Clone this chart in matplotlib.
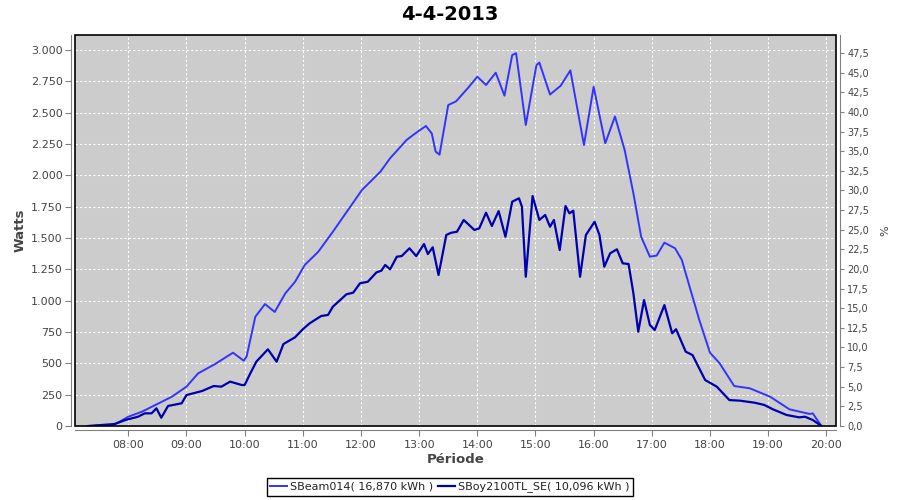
import pandas as pd
import matplotlib
matplotlib.use('Agg')
import matplotlib.pyplot as plt
import matplotlib.dates as mdates
from matplotlib.patches import Rectangle
from matplotlib.ticker import FuncFormatter, MultipleLocator

# values (time of day, Watts)
beam_times = ['07:18', '07:44', '07:50', '08:00', '08:14', '08:28', '08:45', '09:00', '09:12',
              '09:29', '09:48', '09:59', '10:02', '10:11', '10:21', '10:31', '10:42', '10:52',
              '11:02', '11:16', '11:31', '11:49', '12:01', '12:20', '12:30', '12:47', '12:56',
              '13:07', '13:13', '13:17', '13:21', '13:30', '13:38', '13:50', '14:00', '14:09', '14:19',
              '14:28', '14:36', '14:40', '14:50', '15:01', '15:04', '15:15', '15:26', '15:36', '15:50',
              '16:00', '16:12', '16:22', '16:32', '16:41', '16:49', '16:58', '17:05', '17:13', '17:24',
              '17:31', '17:39', '17:49', '18:00', '18:10', '18:25', '18:41', '19:02', '19:22',
              '19:43', '19:46', '19:55']
beam_watts = [0, 8, 30, 74, 114, 168, 234, 314, 420,
              492, 585, 521, 553, 872, 973, 910, 1059, 1151,
              1285, 1391, 1550, 1750, 1883, 2029, 2136, 2282, 2335,
              2394, 2335, 2190, 2165, 2561, 2590, 2694, 2787, 2721, 2819,
              2636, 2960, 2975, 2402, 2880, 2900, 2645, 2715, 2838, 2242,
              2707, 2256, 2470, 2202, 1857, 1510, 1351, 1360, 1463, 1418,
              1325, 1111, 846, 585, 500, 319, 301, 234, 133,
              96, 101, 0]

boy_times = ['07:19', '07:46', '07:57', '08:10', '08:17', '08:24', '08:29', '08:34', '08:41',
             '08:55', '09:00', '09:16', '09:28', '09:36', '09:45', '09:57', '10:00', '10:05',
             '10:12', '10:24', '10:33', '10:40', '10:52', '11:00', '11:07', '11:19', '11:26',
             '11:31', '11:45', '11:52', '11:59', '12:07', '12:16', '12:21', '12:25', '12:30',
             '12:37', '12:42', '12:50', '12:57', '13:05', '13:09', '13:14', '13:20', '13:28',
             '13:33', '13:39', '13:46', '13:57', '14:02', '14:09', '14:15', '14:22', '14:29',
             '14:36', '14:43', '14:46', '14:50', '14:57', '15:04', '15:10', '15:15', '15:19',
             '15:25', '15:31', '15:35', '15:39', '15:46', '15:52', '16:01', '16:06', '16:11',
             '16:17', '16:24', '16:30', '16:36', '16:41', '16:46', '16:52', '16:58', '17:03',
             '17:13', '17:21', '17:25', '17:35', '17:42', '17:55', '18:07', '18:20', '18:31',
             '18:46', '18:56', '19:05', '19:19', '19:32', '19:38', '19:46', '19:55']
boy_watts = [0, 16, 48, 74, 101, 101, 141, 66, 160,
             181, 247, 279, 319, 314, 354, 327, 327, 407,
             513, 612, 513, 654, 708, 772, 819, 878, 886,
             952, 1051, 1064, 1139, 1151, 1226, 1239, 1285, 1250,
             1351, 1356, 1418, 1356, 1452, 1372, 1426, 1205, 1524,
             1542, 1550, 1644, 1564, 1577, 1702, 1596, 1715, 1510,
             1790, 1817, 1750, 1191, 1835, 1644, 1684, 1590, 1644,
             1404, 1755, 1697, 1718, 1191, 1524, 1630, 1524, 1271,
             1378, 1410, 1298, 1293, 1059, 752, 1005, 806, 766,
             965, 740, 772, 593, 566, 367, 314, 207, 202,
             186, 168, 133, 88, 69, 74, 48, 0]

labels = ['SBeam014( 16,870 kWh )', 'SBoy2100TL_SE( 10,096 kWh )']
colors = ['#3333ff', '#0000b0']

day = '2013-04-04 '
beam_t = pd.to_datetime([day + t for t in beam_times])
boy_t = pd.to_datetime([day + t for t in boy_times])

fig = plt.figure(figsize=(9, 5), dpi=100)
ax = fig.add_axes([75 / 900, 74 / 500, 761 / 900, 391 / 500])
ax.set_facecolor('#cccccc')

l1, = ax.plot(beam_t, beam_watts, color=colors[0], lw=1.4)
l2, = ax.plot(boy_t, boy_watts, color=colors[1], lw=1.6)

ax.set_xlim(pd.Timestamp(day + '07:05'), pd.Timestamp(day + '20:10'))
ax.set_ylim(0, 3120)
ax.yaxis.set_major_locator(MultipleLocator(250))
ax.yaxis.set_major_formatter(FuncFormatter(lambda v, p: f"{int(v):,}".replace(',', '.')))
ax.xaxis.set_major_locator(mdates.HourLocator(byhour=range(8, 21)))
ax.xaxis.set_major_formatter(mdates.DateFormatter('%H:%M'))

ax.grid(True, color='white', linestyle=(0, (2, 2)), linewidth=0.8)
ax.set_axisbelow(True)

for s in ['top', 'right']:
    ax.spines[s].set_visible(False)
for s in ['left', 'bottom']:
    ax.spines[s].set_position(('outward', 3))
    ax.spines[s].set_color('gray')
ax.tick_params(axis='both', direction='out', length=4, color='gray',
               labelsize=8, labelcolor='#444444', pad=2)
ax.tick_params(axis='x', pad=3)

ax.set_ylabel('Watts', fontsize=9.5, fontweight='bold', color='#444444', labelpad=3)
ax.set_xlabel('Période', fontsize=9.5, fontweight='bold', color='#444444', labelpad=2)

ax2 = ax.twinx()
ax2.set_ylim(0, 49.8)
ax2.yaxis.set_major_locator(MultipleLocator(2.5))
ax2.yaxis.set_major_formatter(FuncFormatter(lambda v, p: f"{v:.1f}".replace('.', ',')))
for s in ['top', 'left', 'bottom']:
    ax2.spines[s].set_visible(False)
ax2.spines['right'].set_position(('outward', 3))
ax2.spines['right'].set_color('gray')
ax2.tick_params(axis='y', direction='out', length=3, color='gray',
                labelsize=7, labelcolor='#444444', pad=2)
ax2.set_ylabel('%', fontsize=8, color='#444444', labelpad=8)

ax2.add_patch(Rectangle((0, 0), 1, 1, transform=ax2.transAxes, fill=False,
                        edgecolor='black', lw=1.2, zorder=10, clip_on=False))

fig.suptitle('4-4-2013', fontsize=14, fontweight='bold', y=0.99)

leg = fig.legend([l1, l2], labels, loc='center', bbox_to_anchor=(0.5, 0.026), ncol=2,
                 frameon=True, fancybox=False, edgecolor='black', framealpha=1,
                 fontsize=8, handlelength=1.5, handletextpad=0.3, columnspacing=0.4,
                 borderpad=0.3, borderaxespad=0)
for t in leg.get_texts():
    t.set_color('#222222')

fig.savefig('out.png', dpi=100)
